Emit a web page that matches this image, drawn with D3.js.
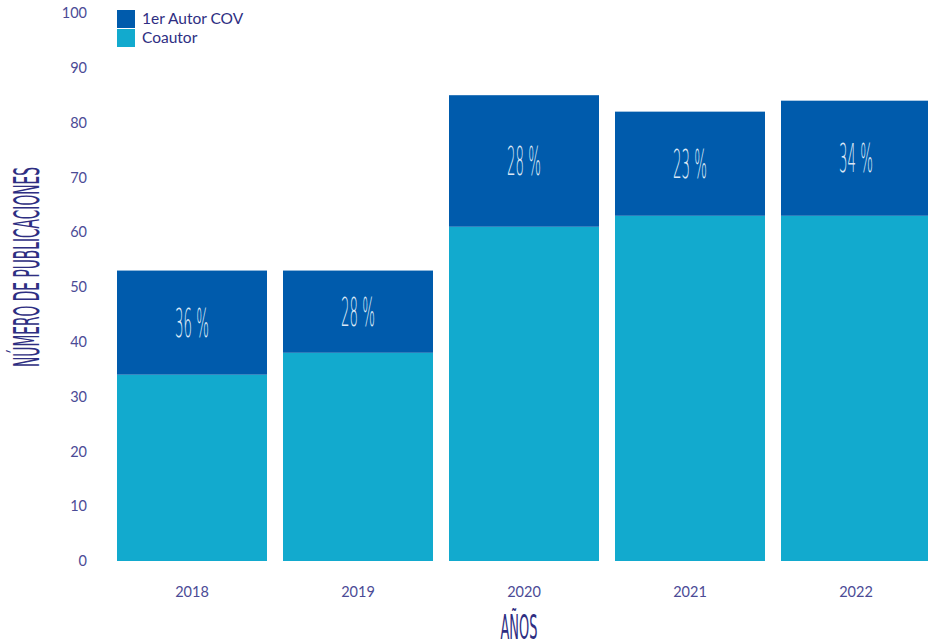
<!DOCTYPE html>
<html>
<head>
<meta charset="utf-8">
<script src="https://cdn.jsdelivr.net/npm/d3@7"></script>
<style>
  html, body { margin: 0; padding: 0; background: #fff; }
  svg { display: block; }
</style>
</head>
<body>
<svg id="chart" width="928" height="643"></svg>
<script>
// Publications per year, split by authorship role
const years = ["2018", "2019", "2020", "2021", "2022"];
const coautor = [34, 38, 61, 63, 63];
const primerAutor = [19, 15, 24, 19, 21];
const percentLabels = ["36 %", "28 %", "28 %", "23 %", "34 %"];
const yTicks = [0, 10, 20, 30, 40, 50, 60, 70, 80, 90, 100];
const seriesNames = ["1er Autor COV", "Coautor"];

const colors = { primer: "#005BAC", coautor: "#12AACE" };
const textColor = "#4B4B96";
const titleColor = "#2E2E82";
const thinFont = "'DejaVu Sans ExtraLight', 'DejaVu Sans'";

const svg = d3.select("#chart");

const x = d3.scaleBand()
  .domain(years)
  .range([117, 931])
  .paddingInner(16 / 166)
  .paddingOuter(0);

const y = d3.scaleLinear().domain([0, 100]).range([561, 13]);

// Stacked data: coautor on the bottom, first-author on top
const rows = years.map((yr, i) => ({ year: yr, coautor: coautor[i], primer: primerAutor[i] }));
const stack = d3.stack().keys(["coautor", "primer"])(rows);

svg.append("g")
  .selectAll("g")
  .data(stack)
  .join("g")
  .attr("fill", d => colors[d.key])
  .selectAll("rect")
  .data(d => d)
  .join("rect")
  .attr("x", d => x(d.data.year))
  .attr("width", x.bandwidth())
  .attr("y", d => y(d[1]))
  .attr("height", d => y(d[0]) - y(d[1]));

// Share labels centred in the first-author segment
const upperSegments = stack[1];
svg.append("g")
  .selectAll("text")
  .data(upperSegments)
  .join("text")
  .attr("x", d => x(d.data.year) + x.bandwidth() / 2)
  .attr("y", d => (y(d[0]) + y(d[1])) / 2 + 14)
  .attr("text-anchor", "middle")
  .attr("fill", "#DCE8F6")
  .attr("font-family", thinFont)
  .attr("font-weight", 200)
  .attr("font-size", 39)
  .attr("textLength", 34)
  .attr("lengthAdjust", "spacingAndGlyphs")
  .text((d, i) => percentLabels[i]);

// Y axis (labels only)
const yAxis = d3.axisLeft(y).tickValues(yTicks).tickSize(0).tickPadding(0);
const gy = svg.append("g").attr("transform", "translate(87,0)").call(yAxis);
gy.select(".domain").remove();
gy.selectAll("text")
  .attr("fill", textColor)
  .attr("font-family", "Lato")
  .attr("font-size", 14.5);

// X axis (labels only)
const xAxis = d3.axisBottom(x).tickSize(0).tickPadding(0);
const gx = svg.append("g").attr("transform", "translate(0,587)").call(xAxis);
gx.select(".domain").remove();
gx.selectAll("text")
  .attr("fill", textColor)
  .attr("font-family", "Lato")
  .attr("font-size", 14.5);

// Axis titles in a tall condensed style
svg.append("text")
  .attr("transform", "translate(39,267) rotate(-90)")
  .attr("text-anchor", "middle")
  .attr("fill", titleColor)
  .attr("font-family", "DejaVu Sans")
  .attr("font-size", 35)
  .attr("textLength", 200)
  .attr("lengthAdjust", "spacingAndGlyphs")
  .text("NÚMERO DE PUBLICACIONES");

svg.append("text")
  .attr("x", 519)
  .attr("y", 639)
  .attr("text-anchor", "middle")
  .attr("fill", titleColor)
  .attr("font-family", "DejaVu Sans")
  .attr("font-size", 33)
  .attr("textLength", 37)
  .attr("lengthAdjust", "spacingAndGlyphs")
  .text("AÑOS");

// Legend
const legend = svg.append("g").attr("transform", "translate(117,10)");
const legendColors = [colors.primer, colors.coautor];
const li = legend.selectAll("g")
  .data(seriesNames)
  .join("g")
  .attr("transform", (d, i) => `translate(0,${i * 19})`);
li.append("rect")
  .attr("width", 18)
  .attr("height", 18)
  .attr("fill", (d, i) => legendColors[i]);
li.append("text")
  .attr("x", 25)
  .attr("y", 9)
  .attr("dy", "0.35em")
  .attr("fill", titleColor)
  .attr("font-family", "Lato")
  .attr("font-size", 15.5)
  .text(d => d);
</script>
</body>
</html>
